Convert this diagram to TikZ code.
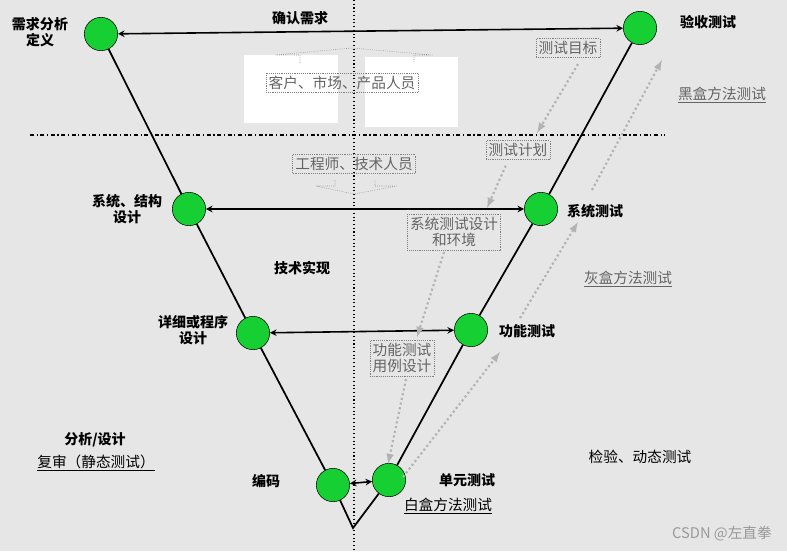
\documentclass[tikz,border=0pt]{standalone}
\usepackage{fontspec}
\setmainfont{Noto Sans CJK SC}
\usetikzlibrary{positioning}
\definecolor{bg}{RGB}{230,230,230}
\definecolor{dotgreen}{RGB}{22,208,51}
\definecolor{txtgray}{RGB}{100,100,100}
\tikzset{
  stage/.style={circle,draw=black,fill=dotgreen,minimum size=25,inner sep=0pt},
  title/.style={font=\bfseries\fontsize{10.5}{12.5}\selectfont,align=center},
  grey/.style={font=\fontsize{11}{12.5}\selectfont,text=txtgray,align=center},
  greybox/.style={grey,draw=gray,densely dotted,inner sep=2pt,fill=none},
  flow/.style={gray!60,line width=1.6pt,dotted,-latex},
  link/.style={line width=1.2pt,<->,>=stealth}
}
\begin{document}
\begin{tikzpicture}[x=0.75pt,y=-0.75pt]
  % 背景
  \fill[bg] (0,0) rectangle (787,551);
  \useasboundingbox (0,0) rectangle (787,551);
  \fill[white] (244,55) rectangle (338,123);
  \fill[white] (365,57) rectangle (458,127);

  % 分隔线
  \draw[thick,dash dot] (30,135) -- (665,135);
  \draw[thick,dotted] (354,0) -- (354,551);

  % V 形
  \coordinate (bottom) at (353,528);
  \node[stage] (req) at (101,34) {};
  \node[stage] (acc) at (640,28) {};
  \node[stage] (sys) at (189,209) {};
  \node[stage] (syst) at (541,209) {};
  \node[stage] (det) at (253,333) {};
  \node[stage] (fun) at (471,330) {};
  \node[stage] (code) at (333,485) {};
  \node[stage] (unit) at (389,480) {};
  \draw[line width=1.3pt] (req) -- (sys) -- (det) -- (code) -- (bottom) -- (unit) -- (fun) -- (syst) -- (acc);

  % 对应关系
  \draw[link] (req) -- (acc);
  \draw[link] (sys) -- (syst);
  \draw[link] (det) -- (fun);
  \draw[link] (code) -- (unit);

  % 阶段名称
  \node[title] at (40,32) {需求分析\\定义};
  \node[title] at (708,22) {验收测试};
  \node[title] at (300,18) {确认需求};
  \node[title] at (127,209) {系统、结构\\设计};
  \node[title] at (595,211) {系统测试};
  \node[title] at (302,268) {技术实现};
  \node[title] at (193,330) {详细或程序\\设计};
  \node[title] at (527,331) {功能测试};
  \node[title] at (266,481) {编码};
  \node[title] at (467,480) {单元测试};
  \node[title] at (95,440) {分析/设计};
  \node[grey,text=black] at (640,457) {检验、动态测试};
  \node[grey,text=black] at (96,463) {\underline{复审（静态测试）}};
  \node[grey,text=black] at (448,506) {\underline{白盒方法测试}};
  \node[grey] at (722,95) {\underline{黑盒方法测试}};
  \node[grey] at (628,279) {\underline{灰盒方法测试}};

  % 人员
  \node[greybox] (cust) at (342,83) {客户、市场、产品人员};
  \node[greybox] (eng) at (354,164) {工程师、技术人员};
  \draw[gray,densely dotted] (300,63) -- (300,55) -- (275,55) -- (352,48) -- (433,55) -- (414,55) -- (414,63);
  \draw[gray,densely dotted] (335,180) -- (335,186) -- (316,186) -- (354,194) -- (397,186) -- (375,186) -- (375,180);

  % 测试文档
  \node[greybox] (goal) at (568,48) {测试目标};
  \node[greybox] (plan) at (518,150) {测试计划};
  \node[greybox] (sysd) at (454,232) {系统测试设计\\和环境};
  \node[greybox] (fund) at (402,358) {功能测试\\用例设计};
  \coordinate (g1) at (537,133);
  \coordinate (g2) at (487,208);
  \coordinate (g3) at (417,337);
  \coordinate (g4) at (388,464);
  \draw[flow] (578,64) -- (g1);
  \draw[flow] (plan.south west) ++(20,6) -- (g2);
  \draw[flow] (sysd.south) ++(-10,2) -- (g3);
  \draw[flow] (fund.south) ++(4,3) -- (g4);
  \coordinate (u1) at (500,352);
  \coordinate (u2) at (578,222);
  \coordinate (u3) at (662,60);
  \draw[flow] (403,477) -- (u1);
  \draw[flow] (520,318) -- (u2);
  \draw[flow] (592,190) -- (u3);

  \node[grey,text=gray!80] at (722,534) {CSDN @左直拳};
\end{tikzpicture}
\end{document}
